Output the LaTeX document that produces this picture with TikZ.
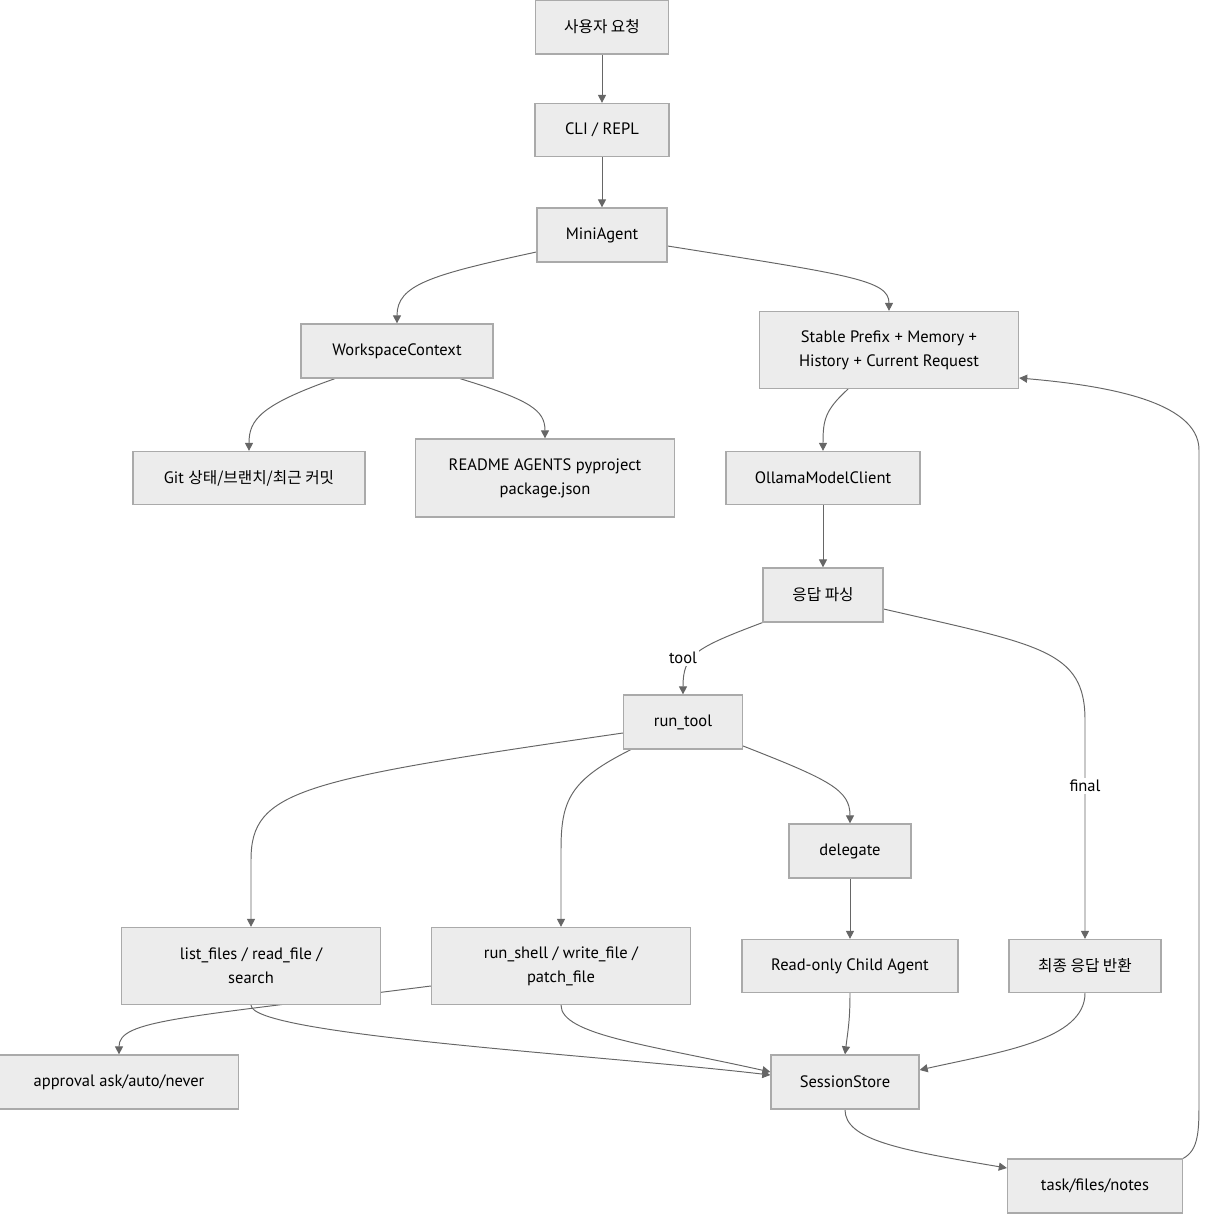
\documentclass[tikz,border=0pt]{standalone}
\usepackage{fontspec}
\setmainfont{PT Sans}
\newfontfamily\kr[Scale=0.95]{Noto Sans CJK KR}
\usetikzlibrary{calc}
\usetikzlibrary{arrows.meta}
\usetikzlibrary{backgrounds}

\definecolor{boxfill}{HTML}{ECECEC}
\definecolor{boxline}{HTML}{AAAAAA}
\definecolor{edgeline}{HTML}{666666}

\tikzset{
    box/.style={draw=boxline, fill=boxfill, line width=0.7pt, align=center, inner sep=0pt,
        font=\fontsize{9.4pt}{13.7pt}\selectfont},
    sz/.style 2 args={minimum width=#1*0.02cm, minimum height=#2*0.02cm},
    edge/.style={draw=edgeline, line width=0.55pt, -{Triangle[width=4.6pt,length=4.6pt]}},
    lbl/.style={fill=white, inner sep=1pt, font=\fontsize{9.4pt}{11pt}\selectfont},
}

\begin{document}
\begin{tikzpicture}[x=0.02cm, y=-0.02cm]

    \useasboundingbox (0,0) rectangle (1207,1214);

    % Nodes
    \node[box, sz={133}{54}] (req) at (602,27) {\kr 사용자 요청};
    \node[box, sz={134}{53}] (cli) at (602,130) {CLI / REPL};
    \node[box, sz={130}{54}] (mini) at (602,235) {MiniAgent};
    \node[box, sz={192}{54}] (wsc) at (397,351) {WorkspaceContext};
    \node[box, sz={259}{77}] (prompt) at (889,350) {Stable Prefix + Memory +\\History + Current Request};
    \node[box, sz={232}{53}] (git) at (249,478) {Git {\kr 상태/브랜치/최근 커밋}};
    \node[box, sz={259}{78}] (meta) at (545,478) {README AGENTS pyproject\\package.json};
    \node[box, sz={194}{53}] (ollama) at (823,478) {OllamaModelClient};
    \node[box, sz={120}{54}] (parse) at (823,595) {\kr 응답 파싱};
    \node[box, sz={119}{54}] (runtool) at (683,722) {run\_tool};
    \node[box, sz={122}{54}] (delegate) at (850,851) {delegate};
    \node[box, sz={259}{77}] (readtools) at (251,966) {list\_files / read\_file /\\search};
    \node[box, sz={259}{77}] (writetools) at (561,966) {run\_shell / write\_file /\\patch\_file};
    \node[box, sz={216}{53}] (child) at (850,966) {Read-only Child Agent};
    \node[box, sz={152}{53}] (final) at (1085,966) {\kr 최종 응답 반환};
    \node[box, sz={239}{54}] (approval) at (119,1082) {approval ask/auto/never};
    \node[box, sz={148}{54}] (store) at (845,1082) {SessionStore};
    \node[box, sz={175}{54}] (notes) at (1095,1186) {task/files/notes};

    % Edge labels
    \node[lbl] (ltool) at (683,658) {tool};
    \node[lbl] (lfinal) at (1085,786) {final};

    % Edges
    \begin{pgfonlayer}{background}
    \draw[edge] (req) -- (cli);
    \draw[edge] (cli) -- (mini);
    \draw[edge] ($(mini.west)+(0,17)$) .. controls (430,275) and (397,285) .. (wsc.north);
    \draw[edge] ($(mini.east)+(0,11)$) .. controls (850,275) and (889,280) .. (prompt.north);
    \draw[edge] ($(wsc.south)+(-62,0)$) .. controls (260,405) and (249,420) .. (git.north);
    \draw[edge] ($(wsc.south)+(63,0)$) .. controls (530,400) and (545,410) .. (meta.north);
    \draw[edge] ($(prompt.south)+(-41,0)$) .. controls (825,410) and (823,420) .. (ollama.north);
    \draw[edge] (ollama) -- (parse);
    \draw[edge] (parse.south west) .. controls (695,648) and (683,655) .. (runtool.north);
    \draw[edge] ($(parse.east)+(0,14)$) .. controls (1040,645) and (1085,650) .. (1085,720) -- (final.north);
    \draw[edge] ($(runtool.west)+(0,11)$) .. controls (300,780) and (251,790) .. (251,860) -- (readtools.north);
    \draw[edge] ($(runtool.south west)+(8,0)$) .. controls (570,780) and (561,800) .. (561,850) -- (writetools.north);
    \draw[edge] ($(runtool.east)+(0,24)$) .. controls (830,780) and (850,790) .. (delegate.north);
    \draw[edge] (delegate) -- (child);
    \draw[edge] (readtools.south) .. controls (251,1035) and (600,1055) .. ($(store.west)+(0,-7)$);
    \draw[edge] ($(writetools.west)+(0,20)$) .. controls (180,1018) and (119,1020) .. (approval.north);
    \draw[edge] (writetools.south) .. controls (561,1035) and (650,1045) .. ($(store.west)+(0,-10)$);
    \draw[edge] (child.south) .. controls (850,1020) and (848,1030) .. (store.north);
    \draw[edge] (final.south) .. controls (1085,1040) and (1000,1052) .. ($(store.east)+(0,-12)$);
    \draw[edge] (store.south) .. controls (845,1140) and (900,1150) .. ($(notes.west)+(0,-18)$);
    \draw[edge] ($(notes.north east)$) .. controls (1199,1150) and (1199,1130) .. (1199,1100) -- (1199,450) .. controls (1199,400) and (1100,385) .. ($(prompt.east)+(0,28)$);
    \end{pgfonlayer}

\end{tikzpicture}
\end{document}
